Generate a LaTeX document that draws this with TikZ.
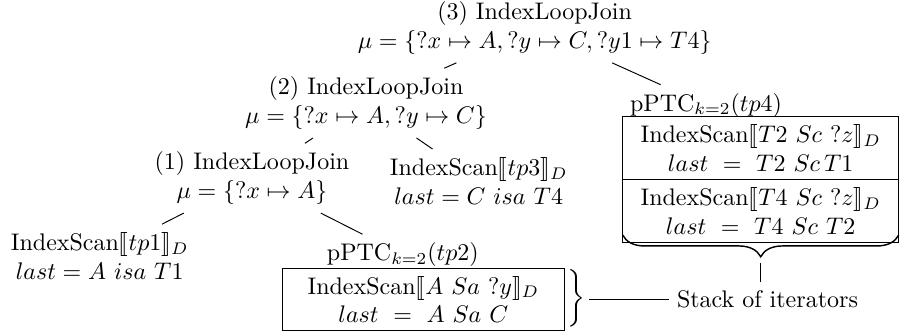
\documentclass[tikz,border=0pt]{standalone}
\usepackage{amsmath,amssymb}
\usepackage{stmaryrd}
\usepackage{tikz}
\usetikzlibrary{positioning, decorations.pathreplacing}

\begin{document}
\begin{tikzpicture}[
    opnode/.style={align=center},
    iterbox/.style={rectangle, draw, outer sep=0pt, align=center, minimum width=#1, minimum height=0.88cm},
    iterbox/.default=4.04cm,
    bracenode/.style={inner sep=0pt, outer sep=0pt},
    stackbrace/.style={decorate, line width=0.6pt, decoration={brace, amplitude=9pt, raise=-3pt}}
]
\useasboundingbox (0,0) rectangle (13.18,4.89);

% Join operators
\node[opnode] at (7.83,4.48) (join3) {(3) IndexLoopJoin\\ $\mu = \{?x \mapsto A, ?y \mapsto C, ?y1 \mapsto T4\}$};
\node[opnode] at (5.36,3.38) (join2) {(2) IndexLoopJoin\\ $\mu = \{?x \mapsto A, ?y \mapsto C\}$};
\node[opnode] at (3.69,2.28) (join1) {(1) IndexLoopJoin\\ $\mu = \{?x \mapsto A\}$};

% Index scans
\node[opnode] at (7.01,2.24) (scan3) {IndexScan$\llbracket tp3\rrbracket_D$\\ $last = C\ isa\ T4$};
\node[opnode] at (1.46,1.14) (scan1) {IndexScan$\llbracket tp1\rrbracket_D$\\ $last = A\ isa\ T1$};

% pPTC for tp2
\node at (5.90,1.16) (ptc2) {pPTC$_{k=2}(tp2)$};
\node[iterbox=4.14cm] at (6.20,0.505) (it2) {IndexScan$\llbracket A\ Sa\ ?y\rrbracket_D$\\ $last\ =\ A\ Sa\ C$};

% pPTC for tp4
\node at (10.34,3.35) (ptc4) {pPTC$_{k=2}(tp4)$};
\node[iterbox] at (11.14,2.72) (it4a) {IndexScan$\llbracket T2\ Sc\ ?z\rrbracket_D$\\ $last\ =\ T2\ Sc\,T1$};
\node[iterbox, below=0pt of it4a] (it4b) {IndexScan$\llbracket T4\ Sc\ ?z\rrbracket_D$\\ $last\ =\ T4\ Sc\ T2$};

% Tree edges
\draw (join3) -- (join2);
\draw (join3) -- (ptc4);
\draw (join2) -- (join1);
\draw (join2) -- (scan3);
\draw (join1) -- (scan1);
\draw (join1) -- (ptc2);

% Braces and stack of iterators
\node[bracenode, anchor=west] (br2) at (it2.east) {$\left.\rule[-10pt]{0pt}{15pt}\right\}$};
\draw[stackbrace] (it4b.south east) -- (it4b.south west);
\coordinate[yshift=-6pt] (tip4) at (it4b.south);
\node at (11.24,0.505) (stack) {Stack of iterators};
\draw[shorten <=1.5pt] (br2.east) -- (br2.east -| stack.west);
\draw[shorten <=2.5pt] (tip4) -- (tip4 |- stack.north);

\end{tikzpicture}
\end{document}
